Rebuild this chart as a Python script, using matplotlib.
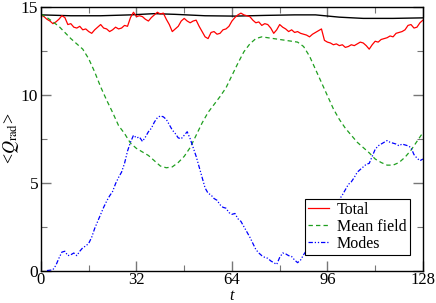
import matplotlib
matplotlib.use('Agg')
import matplotlib.pyplot as plt
from matplotlib.ticker import MultipleLocator

# Total (red), one value per unit of t, from t = 0 to 128
total = [14.55, 14.45, 14.3, 14.2, 14.05, 14.15, 14.3, 14.5, 14.4, 14.0,
         14.05, 13.85, 13.8, 13.9, 13.7, 13.75, 13.6, 13.5, 13.7, 13.85,
         14.0, 13.8, 13.75, 13.6, 13.7, 13.85, 13.75, 13.8, 13.95, 13.9,
         14.4, 14.7, 14.45, 14.5, 14.45, 14.3, 14.2, 14.4, 14.55, 14.7,
         14.6, 14.65, 14.3, 14.0, 13.6, 13.75, 13.9, 14.2, 14.35, 14.2,
         14.1, 14.2, 14.25, 13.9, 13.6, 13.3, 13.2, 13.55, 13.6, 13.45,
         13.5, 13.7, 13.75, 13.9, 14.2, 14.4, 14.55, 14.65, 14.55, 14.5,
         14.45, 14.25, 14.1, 14.15, 13.95, 14.05, 14.0, 13.8, 13.5, 13.7,
         14.0, 13.85, 13.75, 13.6, 13.7, 13.55, 13.6, 13.5, 13.45, 13.4,
         13.3, 13.45, 13.55, 13.65, 13.75, 13.1, 13.0, 12.95, 12.85, 12.9,
         12.8, 12.85, 12.7, 12.75, 12.85, 12.8, 12.9, 13.0, 12.95, 12.8,
         12.6, 12.85, 13.05, 13.0, 13.15, 13.2, 13.25, 13.35, 13.3, 13.5,
         13.55, 13.6, 13.7, 13.95, 14.0, 13.8, 13.85, 14.1, 14.25]
t_total = list(range(len(total)))

# Mean field (green), every 2 units of t
t_mean = list(range(0, 129, 2))
mean_field = [14.6, 14.4, 14.15, 13.9, 13.55, 13.2, 12.9, 12.6, 12.05, 11.3,
              10.45, 9.7, 9.0, 8.25, 7.8, 7.25, 6.95, 6.75, 6.55, 6.25,
              5.95, 5.85, 5.9, 6.15, 6.5, 7.0, 7.7, 8.4, 9.0, 9.45,
              9.9, 10.4, 11.1, 11.8, 12.45, 12.9, 13.2, 13.3, 13.25, 13.2,
              13.15, 13.1, 13.05, 13.0, 12.75, 12.2, 11.45, 10.7, 9.95, 9.2,
              8.6, 8.1, 7.7, 7.3, 7.0, 6.7, 6.35, 6.15, 6.0, 6.0,
              6.15, 6.45, 6.85, 7.35, 7.85]

# Modes (blue), every unit of t from t = 2
modes = [0.0, 0.02, 0.05, 0.3, 0.7, 1.05, 1.1, 0.85, 0.9, 1.0,
         0.85, 1.1, 1.3, 1.4, 1.55, 1.9, 2.4, 2.8, 3.2, 3.6,
         3.95, 4.25, 4.5, 4.95, 5.3, 5.6, 6.1, 6.8, 7.3, 7.7,
         7.55, 7.6, 7.35, 7.6, 7.9, 8.1, 8.45, 8.7, 8.8, 8.75,
         8.6, 8.3, 8.0, 7.8, 7.55, 7.5, 7.7, 7.9, 7.5, 7.0,
         6.5, 5.9, 5.3, 4.7, 4.4, 4.3, 4.1, 4.0, 3.75, 3.6,
         3.55, 3.3, 3.2, 3.25, 2.95, 2.8, 2.5, 2.2, 1.9, 1.55,
         1.2, 1.0, 0.85, 0.75, 0.7, 0.55, 0.45, 0.35, 0.75, 1.0,
         0.95, 0.85, 0.8, 0.6, 0.45, 0.6, 0.9, 1.15, 1.4, 1.55,
         1.75, 1.95, 2.3, 2.6, 2.9, 3.15, 3.45, 3.8, 4.05, 4.3,
         4.6, 4.9, 5.05, 5.3, 5.6, 5.75, 5.9, 6.05, 6.1, 6.5,
         6.9, 7.1, 7.2, 7.3, 7.4, 7.3, 7.25, 7.2, 7.1, 7.2,
         7.15, 7.1, 7.0, 6.6, 6.4, 6.25, 6.35]
t_modes = list(range(2, 2 + len(modes)))

# smooth black reference curve at the top
t_ref = [0, 10, 20, 30, 38, 45, 55, 65, 75, 85, 92, 100, 108, 118, 128]
ref = [14.55, 14.5, 14.5, 14.55, 14.62, 14.58, 14.5, 14.48, 14.52, 14.55,
       14.55, 14.42, 14.35, 14.35, 14.38]

x_ticks = [0, 32, 64, 96, 128]
y_ticks = [0, 5, 10, 15]

plt.rcParams['font.family'] = ['Liberation Serif', 'DejaVu Serif']
plt.rcParams['mathtext.fontset'] = 'stix'

fig = plt.figure(figsize=(4.36, 3.03), dpi=100)
# bottom raised a little so the t label fits under the tick labels
ax = fig.add_axes([0.094, 0.107, 0.876, 0.870])

ax.plot(t_ref, ref, color='black', lw=1.0)
ax.plot(t_total, total, color='#ff0000', lw=0.9, label='Total')
ax.plot(t_mean, mean_field, color='#1f9f1f', lw=0.9, dashes=(3.5, 2.5),
        label='Mean field')
ax.plot(t_modes, modes, color='#0000ff', lw=0.9,
        dashes=(3.5, 1.5, 1, 1.5, 1, 1.5), label='Modes')

ax.set_xlim(0, 128)
ax.set_ylim(0, 15)
ax.set_xticks(x_ticks)
ax.set_yticks(y_ticks)
ax.xaxis.set_minor_locator(MultipleLocator(16))
ax.yaxis.set_minor_locator(MultipleLocator(2.5))
ax.tick_params(which='both', direction='in', top=True, right=True,
               color='#777777', labelsize=12.5, pad=2)
ax.tick_params(axis='x', labelsize=12, pad=1)
ax.tick_params(which='major', length=7, width=1)
ax.tick_params(which='minor', length=4, width=0.8)
for s in ax.spines.values():
    s.set_linewidth(1.0)

ax.set_xlabel('t', fontsize=11.5, style='italic', labelpad=0)
ax.set_ylabel('<$Q_{\\rm rad}$>', fontsize=13, labelpad=0)

leg = ax.legend(loc='lower right', bbox_to_anchor=(0.965, 0.06),
                fontsize=11.5, frameon=True, fancybox=False, framealpha=1,
                edgecolor='black', handlelength=1.3, handletextpad=0.5,
                borderpad=0.2, labelspacing=0.05, borderaxespad=0)
leg.get_frame().set_linewidth(0.8)

plt.savefig('out.png', dpi=100)
